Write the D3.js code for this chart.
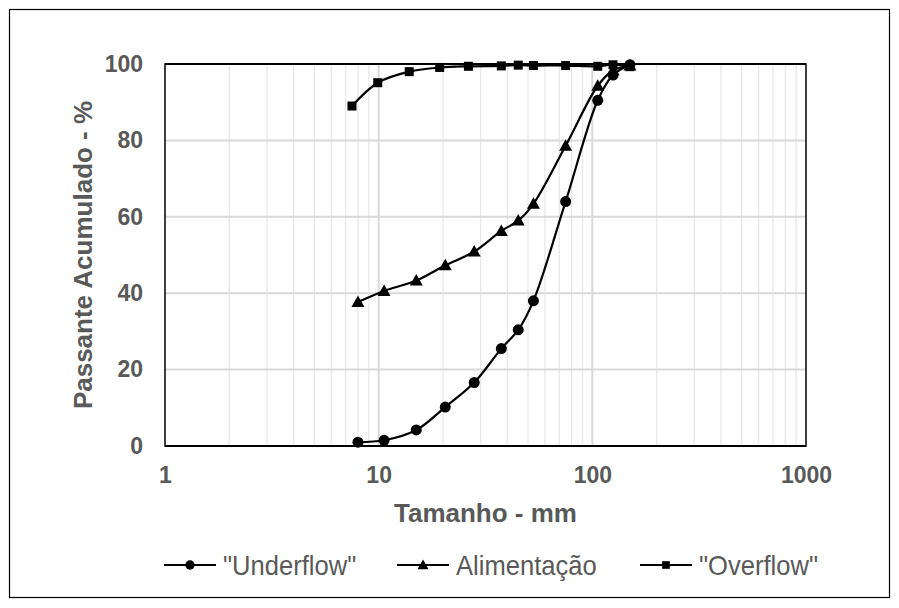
<!DOCTYPE html>
<html>
<head>
<meta charset="utf-8">
<script src="https://cdn.jsdelivr.net/npm/d3@7"></script>
<style>
  body { margin: 0; background: #fff; }
  text { font-family: "Liberation Sans", Arial, sans-serif; }
</style>
</head>
<body>
<script>
// Chart data
var sizesUnder = [8, 10.6, 15, 20.5, 28, 37.5, 45, 53, 75, 106, 125, 150];
var underflow = [1.0, 1.5, 4.2, 10.2, 16.6, 25.5, 30.4, 38.0, 64.0, 90.5, 97.1, 99.8];
var sizesAlim = [8, 10.6, 15, 20.5, 28, 37.5, 45, 53, 75, 106, 125, 150];
var alimentacao = [37.7, 40.6, 43.3, 47.3, 50.9, 56.3, 59.0, 63.4, 78.6, 94.3, 98.3, 99.6];
var sizesOver = [7.5, 9.9, 13.9, 19.3, 26.3, 37.5, 45, 53, 75, 106, 125, 150];
var overflow = [89.0, 95.1, 98.0, 99.1, 99.4, 99.5, 99.7, 99.6, 99.6, 99.4, 99.8, 99.3];

var xTicks = [1, 10, 100, 1000];
var yTicks = [0, 20, 40, 60, 80, 100];
var seriesNames = ['"Underflow"', "Alimentação", '"Overflow"'];

// Chart parameters
var svgWidth = 899;
var svgHeight = 608;
var margin = { top: 64, right: 93, bottom: 162, left: 165 };
var width = svgWidth - margin.left - margin.right;
var height = svgHeight - margin.top - margin.bottom;
var gray = "#595959";

var svg = d3.select("body")
            .append("svg")
            .attr("width", svgWidth)
            .attr("height", svgHeight);

// outer frame
svg.append("rect")
   .attr("x", 9.5).attr("y", 9.5)
   .attr("width", 880).attr("height", 588)
   .attr("fill", "none")
   .attr("stroke", "#000")
   .attr("stroke-width", 1.2);

var chartGroup = svg.append("g")
                    .attr("transform", `translate(${margin.left}, ${margin.top})`);

var x = d3.scaleLog().domain([1, 1000]).range([0, width]);
var y = d3.scaleLinear().domain([0, 100]).range([height, 0]);

// minor vertical gridlines
var minor = [];
[1, 10, 100].forEach(function(d) {
  for (var k = 2; k <= 9; k++) minor.push(d * k);
});
chartGroup.append("g")
  .selectAll("line")
  .data(minor)
  .enter().append("line")
  .attr("x1", d => x(d)).attr("x2", d => x(d))
  .attr("y1", 0).attr("y2", height)
  .attr("stroke", "#e8e8e8")
  .attr("stroke-width", 1.3);

// major gridlines
chartGroup.append("g")
  .selectAll("line")
  .data(xTicks.slice(1, 3))
  .enter().append("line")
  .attr("x1", d => x(d)).attr("x2", d => x(d))
  .attr("y1", 0).attr("y2", height)
  .attr("stroke", "#d9d9d9")
  .attr("stroke-width", 2);

chartGroup.append("g")
  .selectAll("line")
  .data(yTicks.slice(1, 5))
  .enter().append("line")
  .attr("x1", 0).attr("x2", width)
  .attr("y1", d => y(d)).attr("y2", d => y(d))
  .attr("stroke", "#d9d9d9")
  .attr("stroke-width", 2);

// plot border
chartGroup.append("rect")
  .attr("x", 0).attr("y", 0)
  .attr("width", width).attr("height", height)
  .attr("fill", "none")
  .attr("stroke", "#000")
  .attr("stroke-width", 1.5);
chartGroup.append("line")
  .attr("x1", 0).attr("x2", width)
  .attr("y1", 0).attr("y2", 0)
  .attr("stroke", "#000").attr("stroke-width", 2);
chartGroup.append("line")
  .attr("x1", 0).attr("x2", width)
  .attr("y1", height).attr("y2", height)
  .attr("stroke", "#000").attr("stroke-width", 2.2);

// axes
var bottomAxis = d3.axisBottom(x).tickValues(xTicks).tickFormat(d3.format("d")).tickSize(0).tickPadding(21);
var leftAxis = d3.axisLeft(y).tickValues(yTicks).tickSize(0).tickPadding(22);

var xa = chartGroup.append("g")
  .attr("transform", `translate(0, ${height})`)
  .call(bottomAxis);
var ya = chartGroup.append("g").call(leftAxis);
[xa, ya].forEach(function(a) {
  a.select(".domain").remove();
  a.selectAll("text")
   .attr("fill", gray)
   .style("font-family", "'Liberation Sans', Arial, sans-serif")
   .style("font-size", "23px")
   .style("font-weight", "bold");
});

// axis titles
svg.append("text")
  .attr("x", margin.left + width / 2)
  .attr("y", 522)
  .attr("text-anchor", "middle")
  .attr("fill", gray)
  .style("font-size", "26px")
  .style("font-weight", "bold")
  .text("Tamanho - mm");

svg.append("text")
  .attr("transform", `translate(92, ${margin.top + height / 2}) rotate(-90)`)
  .attr("text-anchor", "middle")
  .attr("fill", gray)
  .style("font-size", "26px")
  .style("font-weight", "bold")
  .text("Passante Acumulado - %");

// series
var line = d3.line()
  .x(d => x(d[0]))
  .y(d => y(d[1]))
  .curve(d3.curveCatmullRom.alpha(0.5));

var series = [
  { name: seriesNames[0], pts: d3.zip(sizesUnder, underflow), shape: "circle" },
  { name: seriesNames[1], pts: d3.zip(sizesAlim, alimentacao), shape: "triangle" },
  { name: seriesNames[2], pts: d3.zip(sizesOver, overflow), shape: "square" }
];

function marker(g, shape, k) {
  k = k || 1;
  if (shape === "circle") {
    g.append("circle").attr("r", 5.5 * k).attr("fill", "#000");
  } else if (shape === "triangle") {
    g.append("path").attr("d", `M0,${-6.5 * k}L${6.5 * k},${5 * k}L${-6.5 * k},${5 * k}Z`).attr("fill", "#000");
  } else {
    g.append("rect").attr("x", -4.5 * k).attr("y", -4.5 * k).attr("width", 9 * k).attr("height", 9 * k).attr("fill", "#000");
  }
}

series.slice().reverse().forEach(function(s) {
  chartGroup.append("path")
    .datum(s.pts)
    .attr("fill", "none")
    .attr("stroke", "#000")
    .attr("stroke-width", 2.2)
    .attr("d", line);
  s.pts.forEach(function(p) {
    var g = chartGroup.append("g").attr("transform", `translate(${x(p[0])}, ${y(p[1])})`);
    marker(g, s.shape);
  });
});

// legend
var legendX = [164, 397, 640];
var legend = svg.append("g");
series.forEach(function(s, i) {
  var g = legend.append("g").attr("transform", `translate(${legendX[i]}, 565)`);
  g.append("line")
    .attr("x1", 0).attr("x2", 52)
    .attr("y1", 0).attr("y2", 0)
    .attr("stroke", "#000").attr("stroke-width", 2.2);
  var m = g.append("g").attr("transform", "translate(26, 0)");
  marker(m, s.shape, 0.85);
  g.append("text")
    .attr("transform", "translate(59, 10) scale(0.93, 1)")
    .attr("fill", gray)
    .style("font-size", "27.5px")
    .text(s.name);
});
</script>
</body>
</html>
